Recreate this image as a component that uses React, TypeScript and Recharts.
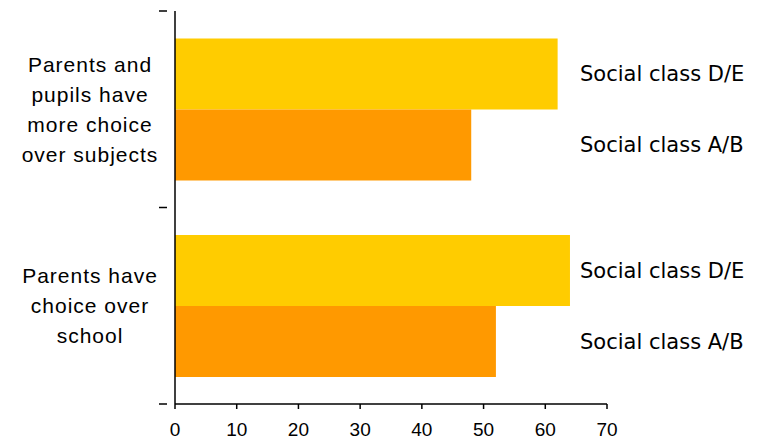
import { Bar, BarChart, LabelList, XAxis, YAxis } from "recharts";

const categories = [
  "Parents and pupils have more choice over subjects",
  "Parents have choice over school",
];
const categoryLines = [
  ["Parents and", "pupils have", "more choice", "over subjects"],
  ["Parents have", "choice over", "school"],
];
const socialDE = [62, 64];
const socialAB = [48, 52];
const xTicks = [0, 10, 20, 30, 40, 50, 60, 70];

const chartData = categories.map((c, i) => ({
  cat: c,
  de: socialDE[i],
  ab: socialAB[i],
}));

const LABEL_X = 580;

function CategoryTick(props: any) {
  const { x, y, payload, index } = props;
  const lines = categoryLines[index] ?? [String(payload.value)];
  const half = payload.offset ?? 98;
  const lineH = 30;
  const startY = y - ((lines.length - 1) * lineH) / 2;
  return (
    <g>
      <line x1={x - 8} x2={x} y1={y - half} y2={y - half} stroke="#000" strokeWidth={1.5} />
      {index === categories.length - 1 && (
        <line x1={x - 8} x2={x} y1={y + half} y2={y + half} stroke="#000" strokeWidth={1.5} />
      )}
      <text
        textAnchor="middle"
        fontFamily="'Liberation Sans', Arial, sans-serif"
        fontSize={21}
        letterSpacing={1}
        fill="#000"
      >
        {lines.map((l, i) => (
          <tspan key={i} x={90} y={startY + i * lineH} dy="0.35em">
            {l}
          </tspan>
        ))}
      </text>
    </g>
  );
}

function seriesLabel(text: string) {
  return (p: any) => (
    <text
      x={LABEL_X}
      y={Number(p.y) + Number(p.height) / 2}
      dy="0.35em"
      fontFamily="'DejaVu Sans', Verdana, sans-serif"
      fontSize={21}
      fill="#000"
    >
      {text}
    </text>
  );
}

export default function App() {
  return (
    <div style={{ position: "absolute", left: 0, top: 0, background: "#fff" }}>
      <BarChart
        width={769}
        height={441}
        data={chartData}
        layout="vertical"
        margin={{ top: 11, right: 162, bottom: 0, left: 0 }}
        barCategoryGap="14%"
        barGap={0}
      >
        <XAxis
          type="number"
          domain={[0, 70]}
          ticks={xTicks}
          height={37}
          tickSize={5}
          tickMargin={14}
          axisLine={{ stroke: "#000", strokeWidth: 1.5 }}
          tickLine={{ stroke: "#000", strokeWidth: 1.5 }}
          tick={{ fill: "#000", fontSize: 19, fontFamily: "'Liberation Sans', Arial, sans-serif" }}
        />
        <YAxis
          type="category"
          dataKey="cat"
          width={175}
          axisLine={{ stroke: "#000", strokeWidth: 1.5 }}
          tickLine={false}
          tick={<CategoryTick />}
        />
        <Bar dataKey="de" fill="#FFCC00" isAnimationActive={false}>
          <LabelList dataKey="de" content={seriesLabel("Social class D/E")} />
        </Bar>
        <Bar dataKey="ab" fill="#FF9900" isAnimationActive={false}>
          <LabelList dataKey="ab" content={seriesLabel("Social class A/B")} />
        </Bar>
      </BarChart>
    </div>
  );
}
